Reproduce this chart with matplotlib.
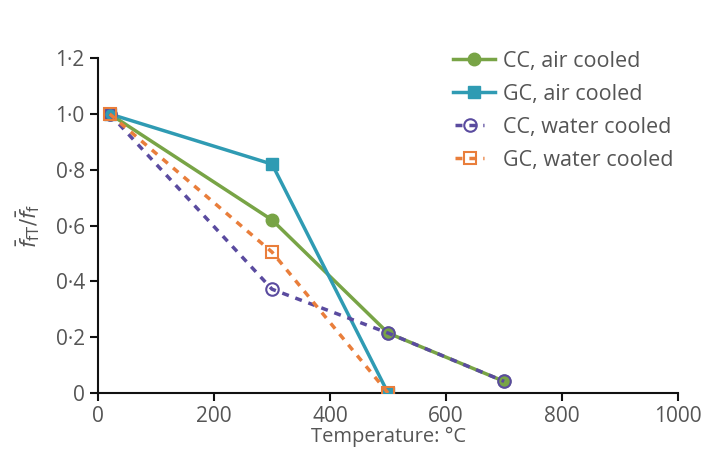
import matplotlib
matplotlib.use("Agg")
import matplotlib.pyplot as plt
from matplotlib.ticker import FuncFormatter
from matplotlib.legend_handler import HandlerLine2D

plt.rcParams['font.family'] = ['Open Sans', 'DejaVu Sans']

# data
temps = [20, 300, 500, 700]
cc_air = [1.0, 0.62, 0.215, 0.042]
gc_air = [1.0, 0.82, 0.0]
cc_water = [1.0, 0.372, 0.215, 0.042]
gc_water = [1.0, 0.505, 0.0]

green = '#78a446'
teal = '#2f9bb3'
purple = '#5a4b9f'
orange = '#e97e3b'
txt = '#555555'


class ShortHandler(HandlerLine2D):
    # shorter legend sample for the dashed series
    def create_artists(self, legend, orig_handle, xdescent, ydescent, width, height, fontsize, trans):
        xdescent = xdescent - width * 0.05
        width = width * 0.7
        return super().create_artists(legend, orig_handle, xdescent, ydescent, width, height, fontsize, trans)


fig = plt.figure(figsize=(7.05, 4.63), dpi=100)
ax = fig.add_axes([0.139, 0.151, 0.823, 0.7236])

ax.plot(temps, cc_air, color=green, lw=2.5, marker='o', ms=9, label='CC, air cooled', zorder=3)
ax.plot(temps[:3], gc_air, color=teal, lw=2.5, marker='s', ms=8.5, label='GC, air cooled', zorder=3)
l3, = ax.plot(temps, cc_water, color=purple, lw=2.5, ls=(0, (2, 2)), marker='o', ms=9,
              mfc='none', mec=purple, mew=1.5, label='CC, water cooled', zorder=4)
l4, = ax.plot(temps[:3], gc_water, color=orange, lw=2.5, ls=(0, (2, 2)), marker='s', ms=8.5,
              mfc='none', mec=orange, mew=1.5, label='GC, water cooled', zorder=4)

ax.set_xlim(0, 1000)
ax.set_ylim(0, 1.2)
ax.set_xticks([0, 200, 400, 600, 800, 1000])
ax.set_yticks([0, 0.2, 0.4, 0.6, 0.8, 1.0, 1.2])

def dot_fmt(v, pos):
    if abs(v) < 1e-9:
        return '0'
    return ('%.1f' % v).replace('.', '\u00b7')

ax.yaxis.set_major_formatter(FuncFormatter(dot_fmt))

for s in ['top', 'right']:
    ax.spines[s].set_visible(False)
for s in ['left', 'bottom']:
    ax.spines[s].set_linewidth(1.5)
    ax.spines[s].set_color('#111111')
ax.tick_params(direction='out', length=6, width=1.5, labelsize=15, labelcolor=txt, color='#111111')

ax.set_xlabel('Temperature: \u00b0C', fontsize=14.5, color=txt, labelpad=0)
ax.set_ylabel(r'$\bar{f}_{\mathrm{fT}}/\bar{f}_{\mathrm{f}}$', fontsize=15, color=txt, labelpad=10)

leg = ax.legend(loc='upper left', bbox_to_anchor=(453 / 705, (463 - 51) / 463), bbox_transform=fig.transFigure,
                frameon=False, fontsize=15.5, borderpad=0, borderaxespad=0,
                handlelength=1.95, handletextpad=0.37, labelspacing=0.55,
                handler_map={l3: ShortHandler(), l4: ShortHandler()})
for t in leg.get_texts():
    t.set_color(txt)

fig.savefig('out.png', dpi=100)
